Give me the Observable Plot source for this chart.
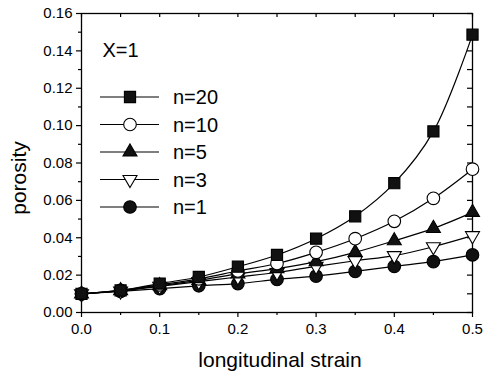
<!DOCTYPE html>
<html>
<head>
<meta charset="utf-8">
<script src="https://cdn.jsdelivr.net/npm/d3@7"></script>
<script src="https://cdn.jsdelivr.net/npm/@observablehq/plot@0.6"></script>
<style>
  html, body { margin: 0; padding: 0; background: #fff; }
  #chart { width: 483px; height: 375px; }
</style>
</head>
<body>
<div id="chart"></div>
<script>
const strain = [0, 0.05, 0.1, 0.15, 0.2, 0.25, 0.3, 0.35, 0.4, 0.45, 0.5];
const n20 = [0.0100, 0.0118, 0.0155, 0.0190, 0.0245, 0.0308, 0.0395, 0.0515, 0.0692, 0.0969, 0.1487];
const n10 = [0.0100, 0.0118, 0.0148, 0.0180, 0.0222, 0.0262, 0.0322, 0.0395, 0.0488, 0.0611, 0.0767];
const n5  = [0.0100, 0.0117, 0.0143, 0.0172, 0.0207, 0.0235, 0.0272, 0.0322, 0.0384, 0.0450, 0.0536];
const n3  = [0.0100, 0.0115, 0.0140, 0.0165, 0.0190, 0.0214, 0.0247, 0.0277, 0.0304, 0.0352, 0.0411];
const n1  = [0.0100, 0.0113, 0.0128, 0.0143, 0.0155, 0.0177, 0.0195, 0.0220, 0.0247, 0.0272, 0.0308];
const seriesNames = ["n=20", "n=10", "n=5", "n=3", "n=1"];
const seriesValues = [n20, n10, n5, n3, n1];
const xMajor = [0, 0.1, 0.2, 0.3, 0.4, 0.5];
const xMinor = [0.05, 0.15, 0.25, 0.35, 0.45];
const yMajor = [0, 0.02, 0.04, 0.06, 0.08, 0.10, 0.12, 0.14, 0.16];
const yMinor = [0.01, 0.03, 0.05, 0.07, 0.09, 0.11, 0.13, 0.15];
const annotation = "X=1";
const xLabel = "longitudinal strain";
const yLabel = "porosity";

const triangleDown = {
  draw(context, size) {
    const y = -Math.sqrt(size / (Math.sqrt(3) * 3));
    context.moveTo(0, -y * 2);
    context.lineTo(-Math.sqrt(3) * y, y);
    context.lineTo(Math.sqrt(3) * y, y);
    context.closePath();
  }
};
const styles = [
  {symbol: "square", fill: "#111", r: 6.3},
  {symbol: "circle", fill: "white", r: 6.3},
  {symbol: "triangle", fill: "#111", r: 5.2},
  {symbol: triangleDown, fill: "white", r: 5.2},
  {symbol: "circle", fill: "#111", r: 6.3}
];

const rows = seriesNames.map((name, i) => strain.map((x, j) => ({series: name, x, y: seriesValues[i][j]})));

const font = "'Liberation Sans', Arial, Helvetica, sans-serif";
const marks = [
  Plot.frame({stroke: "black", strokeWidth: 1.3}),
  Plot.axisX({ticks: xMajor, tickSize: 5, tickPadding: 6, tickFormat: d3.format(".1f"), fontSize: 15, label: null, strokeWidth: 1.2}),
  Plot.axisX({ticks: xMinor, tickSize: 3, tickFormat: () => "", label: null, strokeWidth: 1.2}),
  Plot.axisY({ticks: yMajor, tickSize: 5, tickPadding: 4, tickFormat: d3.format(".2f"), fontSize: 15, label: null, strokeWidth: 1.2}),
  Plot.axisY({ticks: yMinor, tickSize: 3, tickFormat: () => "", label: null, strokeWidth: 1.2}),
  Plot.ruleX(xMajor.concat(xMinor), {insetBottom: 295, stroke: "black", strokeWidth: 1.2}),
  Plot.ruleY(yMajor.concat(yMinor), {insetLeft: 386, stroke: "black", strokeWidth: 1.2}),
  Plot.text([xLabel], {frameAnchor: "bottom", text: d => d, dy: 54, dx: 3, lineAnchor: "bottom", fontSize: 21, fill: "black"}),
  Plot.text([annotation], {frameAnchor: "top-left", text: d => d, dx: 21, dy: 29, textAnchor: "start", fontSize: 20, fill: "black"})
];
rows.forEach((data) => {
  marks.push(Plot.line(data, {x: "x", y: "y", curve: "catmull-rom", stroke: "black", strokeWidth: 1.2}));
});
rows.slice().reverse().forEach((data, k) => {
  const s = styles[rows.length - 1 - k];
  marks.push(Plot.dot(data, {x: "x", y: "y", symbol: s.symbol, r: s.r, fill: s.fill, stroke: "black", strokeWidth: 1.1}));
});

const plot = Plot.plot({
  width: 483,
  height: 375,
  marginLeft: 81,
  marginRight: 11,
  marginTop: 13,
  marginBottom: 63,
  x: {domain: [0, 0.5]},
  y: {domain: [0, 0.16]},
  style: {fontFamily: font, color: "black", background: "white", overflow: "visible"},
  marks
});
document.getElementById("chart").appendChild(plot);

const svg = d3.select(plot);
// y-axis title
svg.append("text")
  .attr("transform", "translate(26,178) rotate(-90)")
  .attr("text-anchor", "middle")
  .attr("font-size", 21).attr("font-family", font).attr("fill", "black")
  .text(yLabel);

// legend
const d3symbols = [d3.symbolSquare, d3.symbolCircle, d3.symbolTriangle, triangleDown, d3.symbolCircle];
const lg = svg.append("g").attr("text-anchor", "start");
seriesNames.forEach((name, i) => {
  const y = 97 + i * 27.5;
  const g = lg.append("g").attr("transform", `translate(0,${y})`);
  g.append("line").attr("x1", 100).attr("x2", 159).attr("y1", 0).attr("y2", 0)
    .attr("stroke", "black").attr("stroke-width", 1.2);
  g.append("path").attr("transform", "translate(130,0)")
    .attr("d", d3.symbol().type(d3symbols[i]).size(Math.PI * styles[i].r * styles[i].r)())
    .attr("fill", styles[i].fill).attr("stroke", "black").attr("stroke-width", 1.1);
  g.append("text").attr("x", 173).attr("y", 0).attr("dy", "0.35em").attr("text-anchor", "start")
    .attr("font-size", 20).attr("font-family", font).attr("fill", "black").text(name);
});
</script>
</body>
</html>
